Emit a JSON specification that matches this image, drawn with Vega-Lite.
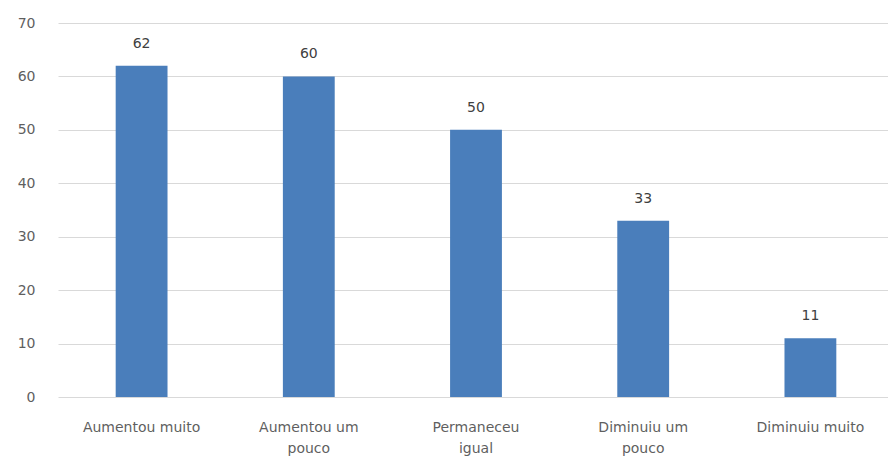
{
  "$schema": "https://vega.github.io/schema/vega-lite/v6.json",
  "width": 830,
  "height": 374,
  "autosize": {"type": "none"},
  "padding": {"left": 58, "top": 23, "right": 0, "bottom": 69},
  "background": "white",
  "config": {
    "view": {"stroke": null},
    "font": "DejaVu Sans"
  },
  "data": {
    "values": [
      {"categoria": "Aumentou muito", "valor": 62},
      {"categoria": "Aumentou um pouco", "valor": 60},
      {"categoria": "Permaneceu igual", "valor": 50},
      {"categoria": "Diminuiu um pouco", "valor": 33},
      {"categoria": "Diminuiu muito", "valor": 11}
    ]
  },
  "encoding": {
    "x": {
      "field": "categoria",
      "type": "nominal",
      "sort": null,
      "scale": {"range": [0, 836], "paddingInner": 0.69, "paddingOuter": 0.345},
      "axis": {
        "title": null,
        "labelAngle": 0,
        "domain": false,
        "ticks": false,
        "labelFontSize": 14,
        "labelColor": "#5f5f5f",
        "labelPadding": 34,
        "labelLineHeight": 21,
        "labelBaseline": "alphabetic",
        "labelExpr": "datum.label == 'Aumentou um pouco' ? ['Aumentou um', 'pouco'] : datum.label == 'Permaneceu igual' ? ['Permaneceu', 'igual'] : datum.label == 'Diminuiu um pouco' ? ['Diminuiu um', 'pouco'] : datum.label"
      }
    },
    "y": {
      "field": "valor",
      "type": "quantitative",
      "scale": {"domain": [0, 70], "nice": false},
      "axis": {
        "title": null,
        "values": [0, 10, 20, 30, 40, 50, 60, 70],
        "domain": false,
        "ticks": false,
        "labelFontSize": 14,
        "labelColor": "#5f5f5f",
        "labelPadding": 23,
        "gridColor": "#d9d9d9",
        "gridWidth": 1
      }
    }
  },
  "layer": [
    {"mark": {"type": "bar", "color": "#4A7EBB"}},
    {
      "mark": {"type": "text", "baseline": "alphabetic", "dy": -18, "fontSize": 14, "color": "#404040"},
      "encoding": {"text": {"field": "valor", "type": "quantitative"}}
    }
  ]
}
